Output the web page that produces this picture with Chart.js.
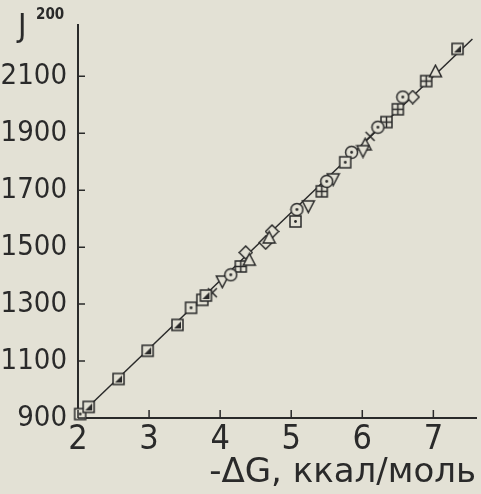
<!DOCTYPE html>
<html>
<head>
<meta charset="utf-8">
<script src="https://cdn.jsdelivr.net/npm/chart.js@4"></script>
<style>
  html, body { margin: 0; padding: 0; background: #e3e1d5; }
  #wrap { width: 481px; height: 494px; }
</style>
</head>
<body>
<div id="wrap"><canvas id="grafico" width="481" height="494"></canvas></div>
<script>
// values, one small array per marker type
const halfSqX = [2.15, 2.57, 2.98, 3.40, 3.80, 7.34];
const halfSqY = [939, 1037, 1136, 1227, 1330, 2196];
const dotSqX = [2.03, 3.59, 3.75, 5.06, 5.76];
const dotSqY = [914, 1287, 1315, 1590, 1798];
const dotCircX = [4.15, 5.08, 5.50, 5.85, 6.22, 6.57];
const dotCircY = [1403, 1632, 1731, 1833, 1921, 2027];
const triDownX = [4.03, 5.24, 5.59, 6.01];
const triDownY = [1379, 1643, 1738, 1837];
const triUpX = [4.41, 4.69, 6.04, 7.03];
const triUpY = [1456, 1534, 1861, 2118];
const crossSqX = [4.29, 5.43, 6.34, 6.50, 6.90];
const crossSqY = [1432, 1696, 1939, 1984, 2083];
const crossX = [3.89, 6.11];
const crossY = [1340, 1889];
const diamondX = [4.36, 4.64, 4.73, 6.71];
const diamondY = [1481, 1516, 1555, 2027];
const fitX = [2.01, 7.55];
const fitY = [907, 2231];

const xTicks = [2, 3, 4, 5, 6, 7];
const yTicks = [900, 1100, 1300, 1500, 1700, 1900, 2100];

const paper = '#e3e1d5';
const ink = '#2a2a2a';
const fnt = '"DejaVu Sans Condensed", "Liberation Sans Narrow", "DejaVu Sans", sans-serif';

function makeMarker(kind) {
    const c = document.createElement('canvas');
    c.width = 15; c.height = 15;
    const g = c.getContext('2d');
    g.lineWidth = 1.5;
    g.strokeStyle = ink;
    g.fillStyle = paper;
    g.beginPath();
    if (kind === 'circ') {
        g.arc(7.5, 7.5, 6, 0, Math.PI * 2);
    } else if (kind === 'triUp') {
        g.moveTo(7.5, 1.5); g.lineTo(13.5, 13); g.lineTo(1.5, 13); g.closePath();
    } else if (kind === 'triDown') {
        g.moveTo(1.5, 2); g.lineTo(13.5, 2); g.lineTo(7.5, 13.5); g.closePath();
    } else if (kind === 'diamond') {
        g.moveTo(7.5, 1); g.lineTo(14, 7.5); g.lineTo(7.5, 14); g.lineTo(1, 7.5); g.closePath();
    } else if (kind !== 'cross') {
        g.rect(2, 2, 11, 11);
    }
    if (kind !== 'cross') { g.fill(); g.stroke(); }
    g.fillStyle = ink;
    if (kind === 'half') {
        g.beginPath(); g.moveTo(4, 11); g.lineTo(11, 11); g.lineTo(11, 4); g.closePath(); g.fill();
    }
    if (kind === 'sq' || kind === 'circ') {
        g.beginPath(); g.arc(7.5, 7.5, 1.4, 0, Math.PI * 2); g.fill();
    }
    if (kind === 'crossSq') {
        g.beginPath(); g.moveTo(7.5, 2); g.lineTo(7.5, 13); g.moveTo(2, 7.5); g.lineTo(13, 7.5); g.stroke();
    }
    if (kind === 'cross') {
        g.beginPath(); g.moveTo(3, 3); g.lineTo(12, 12); g.moveTo(12, 3); g.lineTo(3, 12); g.stroke();
    }
    return c;
}

function pts(xs, ys) {
    return xs.map((x, i) => ({ x: x, y: ys[i] }));
}

function markers(xs, ys, kind) {
    return {
        type: 'scatter',
        data: pts(xs, ys),
        pointStyle: makeMarker(kind),
        clip: false,
        order: 1
    };
}

// short ticks pointing into the plot, plus the J200 label
const extras = {
    id: 'extras',
    afterDraw(chart) {
        const ctx = chart.ctx;
        const xs = chart.scales.x, ys = chart.scales.y;
        ctx.save();
        ctx.strokeStyle = ink;
        ctx.lineWidth = 1.5;
        ctx.beginPath();
        xs.ticks.forEach(t => {
            const px = xs.getPixelForValue(t.value);
            ctx.moveTo(px, ys.bottom);
            ctx.lineTo(px, ys.bottom - 8);
        });
        ys.ticks.forEach(t => {
            const py = ys.getPixelForValue(t.value);
            ctx.moveTo(xs.left, py);
            ctx.lineTo(xs.left + 7, py);
        });
        ctx.stroke();
        ctx.fillStyle = ink;
        ctx.textBaseline = 'alphabetic';
        ctx.font = '32px ' + fnt;
        ctx.fillText('J', 18, 36);
        ctx.font = 'bold 15px ' + fnt;
        ctx.fillText('200', 36, 19);
        ctx.restore();
    }
};

const ctx = document.getElementById('grafico').getContext('2d');
const myChart = new Chart(ctx, {
    data: {
        datasets: [
            {
                type: 'line',
                data: pts(fitX, fitY),
                borderColor: ink,
                borderWidth: 1.5,
                pointRadius: 0,
                clip: false,
                order: 10
            },
            markers(halfSqX, halfSqY, 'half'),
            markers(dotSqX, dotSqY, 'sq'),
            markers(dotCircX, dotCircY, 'circ'),
            markers(triDownX, triDownY, 'triDown'),
            markers(triUpX, triUpY, 'triUp'),
            markers(crossSqX, crossSqY, 'crossSq'),
            markers(crossX, crossY, 'cross'),
            markers(diamondX, diamondY, 'diamond')
        ]
    },
    options: {
        responsive: false,
        animation: false,
        layout: { padding: { top: 25, right: 3, left: 0, bottom: 0 } },
        plugins: {
            legend: { display: false },
            tooltip: { enabled: false }
        },
        scales: {
            x: {
                type: 'linear',
                min: 2,
                max: 7.6,
                grid: { display: false },
                border: { display: true, color: ink, width: 2 },
                afterBuildTicks: s => { s.ticks = xTicks.map(v => ({ value: v })); },
                ticks: {
                    color: ink,
                    padding: -6,
                    maxRotation: 0,
                    autoSkip: false,
                    callback: v => String(v),
                    font: { family: fnt, size: 34 }
                },
                title: {
                    display: true,
                    text: '-ΔG, ккал/моль',
                    align: 'end',
                    color: ink,
                    padding: 0,
                    font: { family: '"DejaVu Sans", sans-serif', size: 34 }
                },
                afterFit: s => { s.height = 76; }
            },
            y: {
                type: 'linear',
                min: 900,
                max: 2280,
                grid: { display: false },
                border: { display: true, color: ink, width: 2 },
                afterBuildTicks: s => { s.ticks = yTicks.map(v => ({ value: v })); },
                ticks: {
                    color: ink,
                    padding: 3,
                    autoSkip: false,
                    callback: v => String(v),
                    font: { family: fnt, size: 29 }
                },
                afterFit: s => { s.width = 78; }
            }
        }
    },
    plugins: [extras]
});
</script>
</body>
</html>
